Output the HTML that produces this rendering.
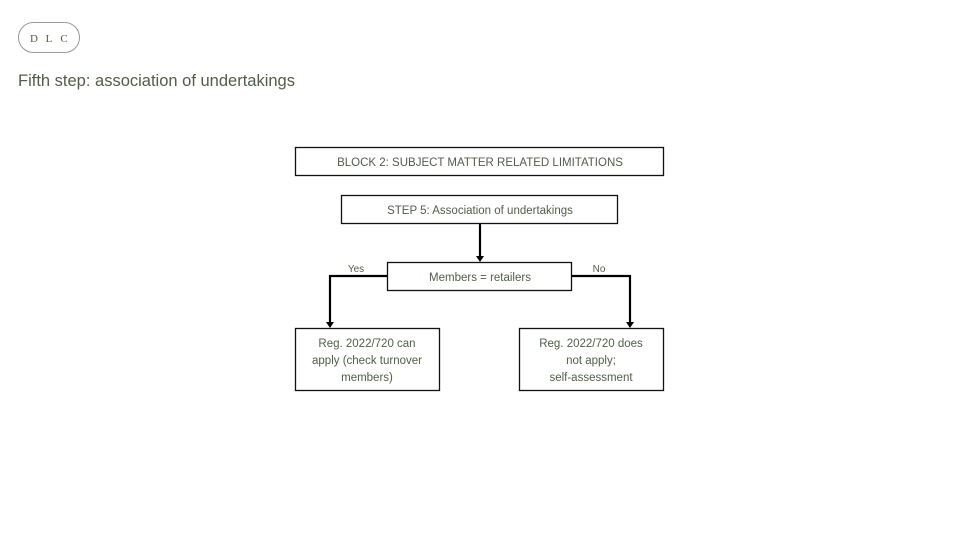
<!DOCTYPE html>
<html><head><meta charset="utf-8"><style>
html,body{margin:0;padding:0;background:#fff;width:960px;height:539px;overflow:hidden}
svg{display:block}
text{font-family:"Liberation Sans",sans-serif;fill:#4f5f45}
</style></head><body>
<svg width="960" height="539" viewBox="0 0 960 539">
<rect x="18.5" y="22.5" width="61" height="30" rx="15" fill="none" stroke="#999" stroke-width="1"/>
<g font-size="11" text-anchor="middle" style="font-family:'Liberation Serif',serif">
<text x="34" y="42" style="font-family:'Liberation Serif',serif">D</text>
<text x="49" y="42" style="font-family:'Liberation Serif',serif">L</text>
<text x="64" y="42" style="font-family:'Liberation Serif',serif">C</text>
</g>
<text x="18" y="86" font-size="16.5" fill="#556b4a">Fifth step: association of undertakings</text>
<g fill="none" stroke="#111" stroke-width="1.3">
<rect x="295.5" y="147.5" width="368" height="28"/>
<rect x="341.5" y="195.5" width="276" height="28"/>
<rect x="387.5" y="262.5" width="184" height="28"/>
<rect x="295.5" y="328.5" width="144" height="62"/>
<rect x="519.5" y="328.5" width="144" height="62"/>
</g>
<g fill="none" stroke="#000" stroke-width="2.2">
<path d="M480 224V257"/>
<path d="M387 276H330V323"/>
<path d="M572 276H630V323"/>
</g>
<g fill="#000">
<path d="M476 256L484 256L480 262Z"/>
<path d="M326 322L334 322L330 328Z"/>
<path d="M626 322L634 322L630 328Z"/>
</g>
<g font-size="11.5" text-anchor="middle">
<text x="480" y="166">BLOCK 2: SUBJECT MATTER RELATED LIMITATIONS</text>
<text x="480" y="214">STEP 5: Association of undertakings</text>
<text x="480" y="281">Members = retailers</text>
<text x="367" y="347">Reg. 2022/720 can</text>
<text x="367" y="364">apply (check turnover</text>
<text x="367" y="381">members)</text>
<text x="591" y="347">Reg. 2022/720 does</text>
<text x="591" y="364">not apply;</text>
<text x="591" y="381">self-assessment</text>
<text x="356" y="272" font-size="10">Yes</text>
<text x="599" y="272" font-size="10">No</text>
</g>
</svg>
</body></html>
